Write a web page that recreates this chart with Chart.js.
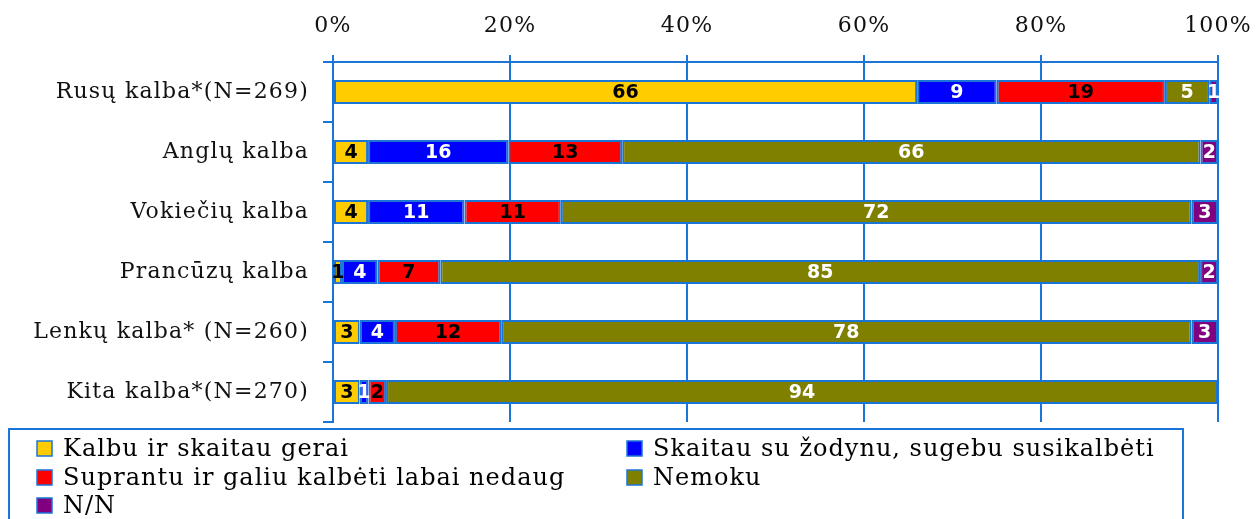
<!DOCTYPE html>
<html>
<head>
<meta charset="utf-8">
<script src="https://cdn.jsdelivr.net/npm/chart.js@4/dist/chart.umd.min.js"></script>
<style>
  html, body { margin: 0; padding: 0; background: #fff; }
  #wrap { width: 1259px; height: 519px; position: relative; }
</style>
</head>
<body>
<div id="wrap"><canvas id="c" width="1259" height="519"></canvas></div>
<script>
const categories = ["Rusų kalba*(N=269)", "Anglų kalba", "Vokiečių kalba", "Prancūzų kalba", "Lenkų kalba* (N=260)", "Kita kalba*(N=270)"];
const seriesNames = ["Kalbu ir skaitau gerai", "Skaitau su žodynu, sugebu susikalbėti", "Suprantu ir galiu kalbėti labai nedaug", "Nemoku", "N/N"];
const kalbuGerai   = [66, 4, 4, 1, 3, 3];
const suZodynu     = [9, 16, 11, 4, 4, 1];
const nedaug       = [19, 13, 11, 7, 12, 2];
const nemoku       = [5, 66, 72, 85, 78, 94];
const nn           = [1, 2, 3, 2, 3, 0];
const xTicks = [0, 20, 40, 60, 80, 100];
const colors = ["#FFCC00", "#0000FF", "#FF0000", "#808000", "#800080"];
const labelColors = ["#000000", "#FFFFFF", "#000000", "#FFFFFF", "#FFFFFF"];
const BLUE = "#1A75D6";

const allSeries = [kalbuGerai, suZodynu, nedaug, nemoku, nn];
const rowSums = categories.map((_, i) => allSeries.reduce((s, arr) => s + arr[i], 0));

const datasets = allSeries.map((arr, k) => ({
  label: seriesNames[k],
  raw: arr,
  data: arr.map((v, i) => v / rowSums[i] * 100),
  backgroundColor: colors[k],
  borderColor: BLUE,
  borderWidth: 2,
  borderSkipped: false,
  categoryPercentage: 0.8,
  barPercentage: 0.5
}));

const spacing = {
  id: 'spacing',
  beforeDraw(chart) { chart.ctx.letterSpacing = '1.2px'; }
};

const valueLabels = {
  id: 'valueLabels',
  afterDatasetsDraw(chart) {
    const ctx = chart.ctx;
    ctx.save();
    ctx.letterSpacing = '0px';
    ctx.font = 'bold 19px "DejaVu Sans"';
    ctx.textAlign = 'center';
    ctx.textBaseline = 'middle';
    chart.data.datasets.forEach((ds, k) => {
      const meta = chart.getDatasetMeta(k);
      meta.data.forEach((el, i) => {
        const v = ds.raw[i];
        if (!v) return;
        ctx.fillStyle = labelColors[k];
        ctx.fillText(String(v), (el.x + el.base) / 2, el.y + 1);
      });
    });
    ctx.restore();
  }
};

const boxLegend = {
  id: 'boxLegend',
  afterDraw(chart) {
    const ctx = chart.ctx;
    ctx.save();
    ctx.strokeStyle = BLUE;
    ctx.lineWidth = 2;
    ctx.strokeRect(9, 429, 1174, 110);
    const pos = [[37, 449], [627, 449], [37, 478], [627, 478], [37, 506]];
    ctx.font = '24px "DejaVu Serif"';
    ctx.letterSpacing = '1px';
    ctx.textBaseline = 'middle';
    ctx.textAlign = 'left';
    seriesNames.forEach((name, k) => {
      const [x, y] = pos[k];
      ctx.fillStyle = colors[k];
      ctx.fillRect(x, y - 8, 15, 15);
      ctx.strokeStyle = BLUE;
      ctx.lineWidth = 1.5;
      ctx.strokeRect(x, y - 8, 15, 15);
      ctx.fillStyle = '#000';
      ctx.fillText(name, x + 26, y + 1);
    });
    ctx.restore();
  }
};

new Chart(document.getElementById('c'), {
  type: 'bar',
  data: { labels: categories, datasets },
  options: {
    indexAxis: 'y',
    responsive: false,
    animation: false,
    layout: { padding: { left: 0, right: 41, top: 0, bottom: 97 } },
    plugins: { legend: { display: false }, tooltip: { enabled: false } },
    scales: {
      x: {
        position: 'top',
        stacked: true,
        min: 0, max: 100,
        afterBuildTicks(scale) { scale.ticks = xTicks.map(v => ({ value: v })); },
        afterFit(scale) { scale.height = 62; scale.paddingLeft = 0; scale.paddingRight = 0; },
        ticks: {
          callback: v => v + '%',
          font: { family: 'DejaVu Serif', size: 22 },
          color: '#111',
          padding: 16,
          maxRotation: 0
        },
        grid: { color: BLUE, lineWidth: 2, tickLength: 7 },
        border: { color: BLUE, width: 2 }
      },
      y: {
        stacked: true,
        afterFit(scale) { scale.width = 333; },
        ticks: {
          font: { family: 'DejaVu Serif', size: 22 },
          color: '#111',
          padding: 14
        },
        grid: { offset: true, drawOnChartArea: false, color: BLUE, lineWidth: 2, tickLength: 10 },
        border: { color: BLUE, width: 2 }
      }
    }
  },
  plugins: [spacing, valueLabels, boxLegend]
});
</script>
</body>
</html>
